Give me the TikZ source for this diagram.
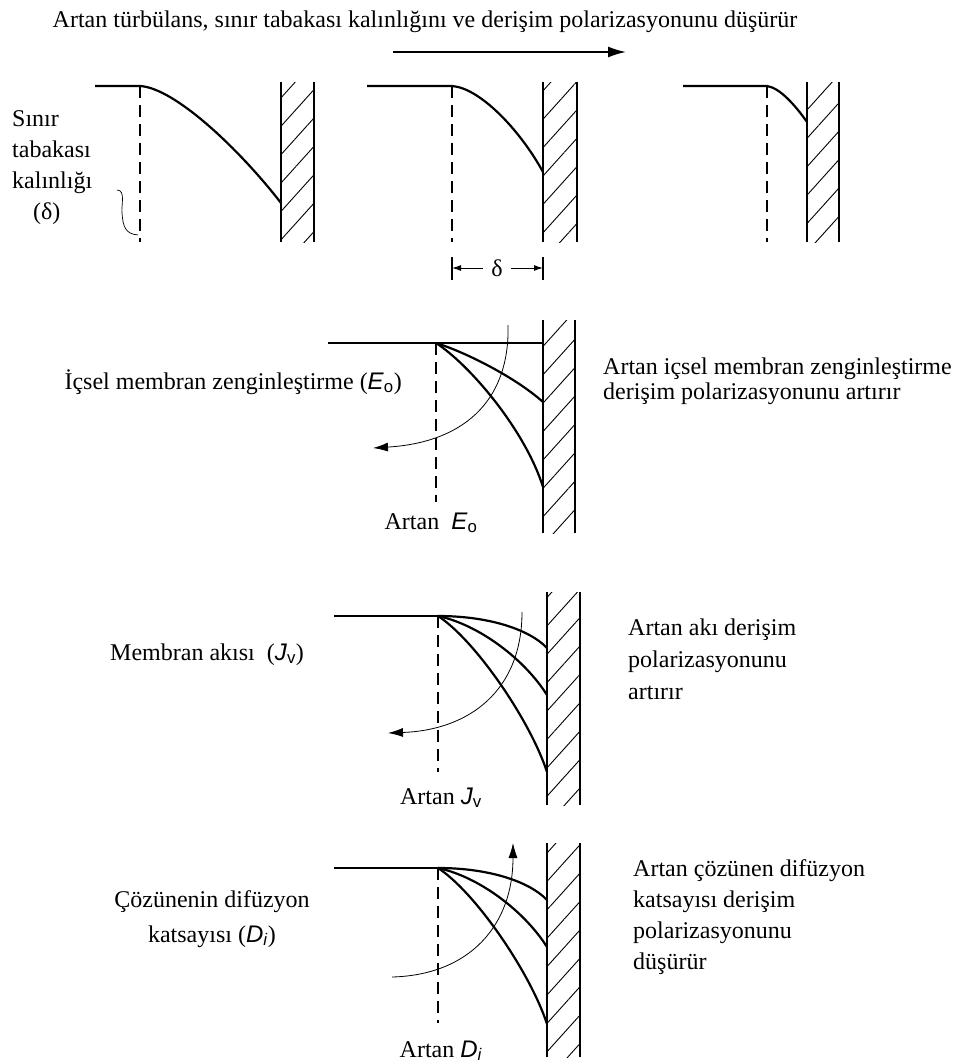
\documentclass[tikz,border=0pt]{standalone}
\usepackage{fontspec}
\setmainfont{Liberation Serif}
\setsansfont{Liberation Sans}
\usepackage{tikz}
\usetikzlibrary{arrows.meta,patterns.meta}
\newcommand{\varsub}[2]{\textsf{\textit{#1}}\textsubscript{\textsf{#2}}}

\begin{document}
\begin{tikzpicture}[x=1pt, y=-1pt, >=Latex, font=\fontsize{24}{31}\selectfont,
		txt/.style={inner sep=0pt},
		conc/.style={line width=2.2pt},
		film/.style={line width=1.3pt, dash pattern=on 12pt off 7pt},
		turn/.style={line width=0.8pt, -{Latex[length=15pt,width=9pt]}},
		wall/.style={pattern={Lines[angle=48,distance=19pt,line width=0.9pt]}},
		side/.style={line width=1.1pt}]
		\useasboundingbox (0,0) rectangle (960,1063);
		
		\node[txt, anchor=base] (title) at (425,27) {Artan türbülans, sınır tabakası kalınlığını ve derişim polarizasyonunu düşürür};
		\coordinate (tl) at (393,52);
		\coordinate (tr) at (626,52);
		\draw[line width=1.6pt, -{Latex[length=18pt,width=11pt]}] (tl) -- (tr);
		
		\coordinate (s1) at (95,86);
		\coordinate (f1) at (140,86);
		\coordinate (d1) at (140,242);
		\coordinate (e1) at (281,203);
		\draw[film] (f1) -- (d1);
		\draw[conc] (s1) -- (f1) .. controls +(35,2) and +(-41,-53) .. (e1);
		\fill[wall] (281,82) rectangle (314,242);
		\draw[side] (281,82) -- (281,242) (314,82) -- (314,242);
		
		\coordinate (s2) at (367,86);
		\coordinate (f2) at (452,86);
		\coordinate (d2) at (452,242);
		\coordinate (e2) at (543,172);
		\draw[film] (f2) -- (d2);
		\draw[conc] (s2) -- (f2) .. controls +(28,2) and +(-23,-42) .. (e2);
		\fill[wall] (543,82) rectangle (577,242);
		\draw[side] (543,82) -- (543,242) (577,82) -- (577,242);
		
		\coordinate (s3) at (683,86);
		\coordinate (f3) at (767,86);
		\coordinate (d3) at (767,242);
		\coordinate (e3) at (807,122);
		\draw[film] (f3) -- (d3);
		\draw[conc] (s3) -- (f3) .. controls +(13,2) and +(-12,-17) .. (e3);
		\fill[wall] (807,82) rectangle (839,242);
		\draw[side] (807,82) -- (807,242) (839,82) -- (839,242);
		
		\node[txt, anchor=base west, align=left] (sinir) at (12,219) {Sınır\\tabakası\\kalınlığı\\\hspace*{21pt}(δ)};
		\coordinate (k1) at (117,190);
		\coordinate (k2) at (138,235);
		\draw[line width=0.7pt] (k1) .. controls (126,190) and (121,206) .. (122,213) .. controls (123,226) and (125,234) .. (k2);
		
		\coordinate (p1) at (452,257);
		\coordinate (p2) at (452,280);
		\coordinate (q1) at (543,257);
		\coordinate (q2) at (543,280);
		\draw[line width=1.8pt] (p1) -- (p2) (q1) -- (q2);
		\node[txt, inner xsep=8pt] (delta) at (497,268) {δ};
		\draw[line width=1pt, -{Latex[length=9pt,width=6pt]}] (delta.west) -- (p1 |- delta);
		\draw[line width=1pt, -{Latex[length=9pt,width=6pt]}] (delta.east) -- (q1 |- delta);
		
		\coordinate (r2s) at (328,343);
		\coordinate (r2f) at (436,343);
		\coordinate (r2w) at (543,343);
		\coordinate (r2d) at (436,502);
		\coordinate (r2a) at (543,402);
		\coordinate (r2b) at (543,487);
		\draw[conc] (r2s) -- (r2w);
		\draw[film] (r2f) -- (r2d);
		\draw[conc] (r2f) .. controls +(29,9) and +(-28,-25) .. (r2a);
		\draw[conc] (r2f) .. controls +(34,22) and +(-18,-57) .. (r2b);
		\fill[wall] (543,320) rectangle (575,533);
		\draw[side] (543,320) -- (543,533) (575,320) -- (575,533);
		\coordinate (r2t) at (508,325);
		\coordinate (r2h) at (373,448);
		\draw[turn] (r2t) .. controls (510,395) and (470,442) .. (r2h);
		\node[txt, anchor=base east] (eo) at (402,389) {İçsel membran zenginleştirme (\varsub{E}{o})};
		\node[txt, anchor=base west, align=left, font=\fontsize{24}{25}\selectfont] (eoR) at (603,399) {Artan içsel membran zenginleştirme\\derişim polarizasyonunu artırır};
		\node[txt, anchor=base] (eoA) at (431,529) {Artan\ \ \varsub{E}{o}};
		
		\coordinate (r3s) at (334,616);
		\coordinate (r3f) at (438,616);
		\coordinate (r3d) at (438,772);
		\coordinate (r3a) at (547,648);
		\coordinate (r3b) at (547,695);
		\coordinate (r3c) at (547,772);
		\draw[conc] (r3s) -- (r3f);
		\draw[film] (r3f) -- (r3d);
		\draw[conc] (r3f) .. controls +(52,0) and +(-17,-18) .. (r3a);
		\draw[conc] (r3f) .. controls +(42,9) and +(-22,-35) .. (r3b);
		\draw[conc] (r3f) .. controls +(37,24) and +(-17,-52) .. (r3c);
		\fill[wall] (547,592) rectangle (580,805);
		\draw[side] (547,592) -- (547,805) (580,592) -- (580,805);
		\coordinate (r3t) at (522,612);
		\coordinate (r3h) at (388,733);
		\draw[turn] (r3t) .. controls (522,690) and (470,730) .. (r3h);
		\node[txt, anchor=base west] (jv) at (110,660) {Membran akısı\ \ (\varsub{J}{v})};
		\node[txt, anchor=base west, align=left, font=\fontsize{24}{32}\selectfont] (jvR) at (628,699) {Artan akı derişim\\polarizasyonunu\\artırır};
		\node[txt, anchor=base] (jvA) at (441,804) {Artan \varsub{J}{v}};
		
		\coordinate (r4s) at (334,868);
		\coordinate (r4f) at (438,868);
		\coordinate (r4d) at (438,1023);
		\coordinate (r4a) at (547,900);
		\coordinate (r4b) at (547,947);
		\coordinate (r4c) at (547,1024);
		\draw[conc] (r4s) -- (r4f);
		\draw[film] (r4f) -- (r4d);
		\draw[conc] (r4f) .. controls +(52,0) and +(-17,-18) .. (r4a);
		\draw[conc] (r4f) .. controls +(42,9) and +(-22,-35) .. (r4b);
		\draw[conc] (r4f) .. controls +(37,24) and +(-17,-52) .. (r4c);
		\fill[wall] (547,843) rectangle (580,1057);
		\draw[side] (547,843) -- (547,1057) (580,843) -- (580,1057);
		\coordinate (r4t) at (392,977);
		\coordinate (r4h) at (513,843);
		\draw[turn] (r4t) .. controls (470,975) and (513,925) .. (r4h);
		\node[txt, anchor=base, align=center, font=\fontsize{24}{35}\selectfont] (di) at (212,942) {Çözünenin difüzyon\\katsayısı (\varsub{D}{\textit{i}})};
		\node[txt, anchor=base west, align=left] (diR) at (633,969) {Artan çözünen difüzyon\\katsayısı derişim\\polarizasyonunu\\düşürür};
		\node[txt, anchor=base] (diA) at (441,1057) {Artan \varsub{D}{\textit{i}}};
	\end{tikzpicture}
\end{document}
